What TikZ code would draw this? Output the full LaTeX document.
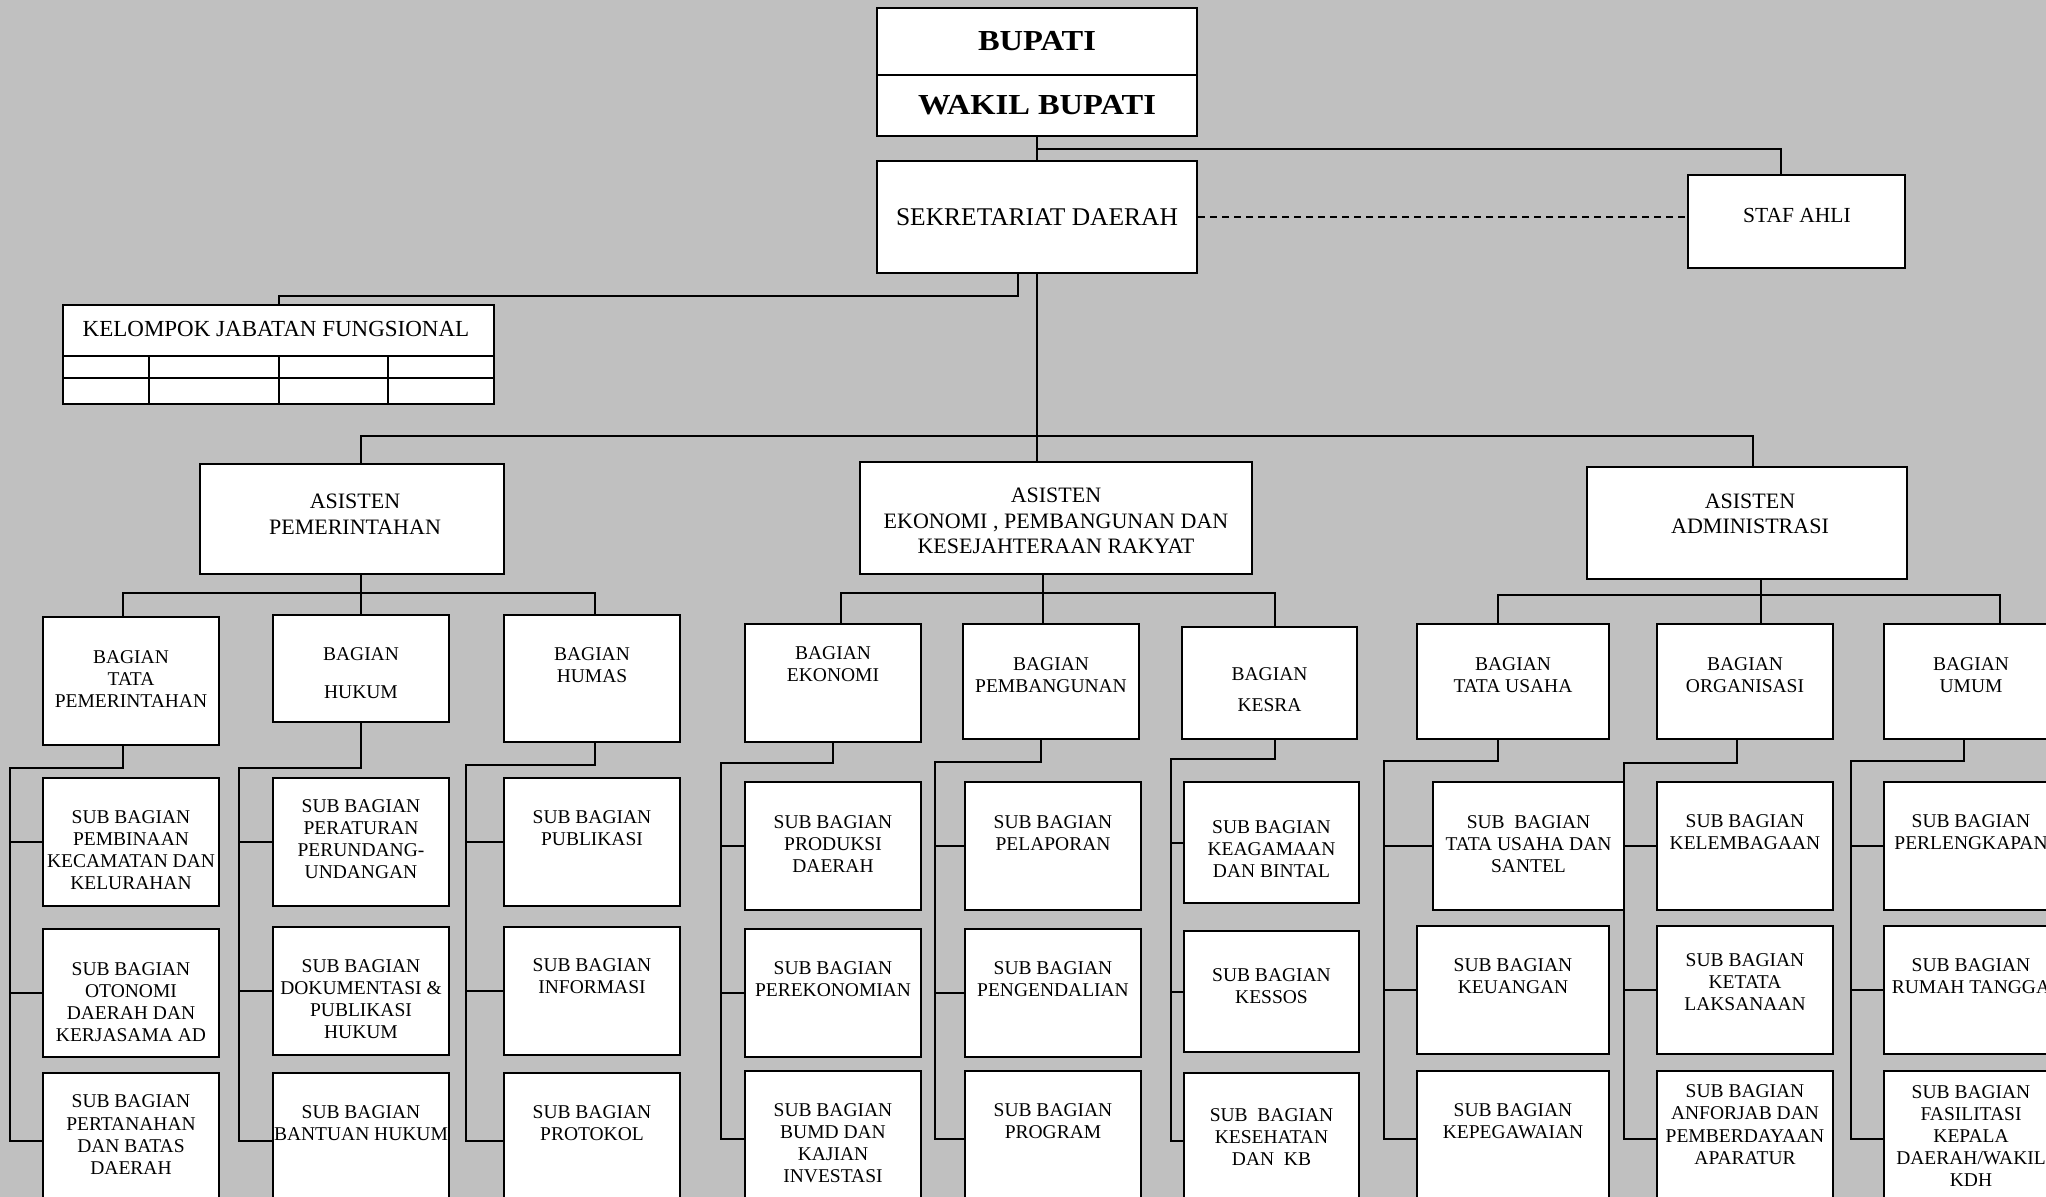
\documentclass[tikz,border=0pt]{standalone}
\usepackage{fontspec}
\setmainfont{Liberation Serif}
\newfontfamily\headfont[FakeStretch=1.12]{Liberation Serif}
\usepackage{tikz}
\definecolor{bggray}{HTML}{C0C0C0}
\tikzstyle{box} = [draw, line width=2pt, fill=white, inner sep=0pt, minimum width=176pt, minimum height=128pt]
\tikzstyle{conn} = [line width=2pt]
\tikzstyle{stext} = [align=center, inner sep=0pt, font=\fontsize{19.5pt}{22.2pt}\selectfont]
\tikzstyle{btext} = [align=center, inner sep=0pt, font=\fontsize{19.5pt}{21.8pt}\selectfont]
\tikzstyle{atext} = [align=center, inner sep=0pt, font=\fontsize{22pt}{25.5pt}\selectfont]
\begin{document}
\begin{tikzpicture}[x=1pt, y=-1pt]
    \clip (0,0) rectangle (2046,1197);
    \fill[bggray] (0,0) rectangle (2046,1197);

    % pimpinan
    \node[box, minimum width=320pt, minimum height=67pt, font=\headfont\fontsize{29pt}{34pt}\selectfont\bfseries] (bupati) at (1037,41.5) {BUPATI};
    \node[box, minimum width=320pt, minimum height=61pt, font=\headfont\fontsize{29pt}{34pt}\selectfont\bfseries] (wakil) at (1037,105.5) {WAKIL BUPATI};
    \node[box, minimum width=320pt, minimum height=112pt, font=\fontsize{25.5pt}{29pt}\selectfont] (sekda) at (1037,217) {SEKRETARIAT DAERAH};
    \node[box, minimum width=217pt, minimum height=93pt] (staf) at (1796.5,221.5) {};
    \node[inner sep=0pt, font=\fontsize{21.5pt}{25pt}\selectfont] (staft) at (1797,215.7) {STAF AHLI};

    % kelompok jabatan fungsional
    \node[box, minimum width=431pt, minimum height=99pt] (kjf) at (278.5,354.5) {};
    \node[inner sep=0pt, font=\fontsize{23pt}{26pt}\selectfont] (kjft) at (276,329) {KELOMPOK JABATAN FUNGSIONAL};
    \draw[conn] (63,356) -- (494,356);
    \draw[conn] (63,378) -- (494,378);
    \foreach \cx in {149,279,388}
        \draw[conn] (\cx,356) -- (\cx,404);

    % asisten
    \node[box, minimum width=304pt, minimum height=110pt] (asp) at (352,519) {};
    \node[atext] (aspt) at (355,514) {ASISTEN\\PEMERINTAHAN};
    \node[box, minimum width=392pt, minimum height=112pt] (ase) at (1056,518) {};
    \node[atext] (aset) at (1056,521) {ASISTEN\\EKONOMI , PEMBANGUNAN DAN\\KESEJAHTERAAN RAKYAT};
    \node[box, minimum width=320pt, minimum height=112pt] (asa) at (1747,523) {};
    \node[atext] (asat) at (1750,514) {ASISTEN\\ADMINISTRASI};

    % bagian
    \node[box] (btp) at (131,681) {};
    \node[btext] (btpt) at (131,679) {BAGIAN\\TATA\\PEMERINTAHAN};
    \node[box, minimum height=107pt] (bhk) at (361,668.5) {};
    \node[btext] (bhkt) at (361,673) {BAGIAN\\[15.6pt]HUKUM};
    \node[box, minimum height=127pt] (bhm) at (592,678.5) {};
    \node[btext] (bhmt) at (592,665) {BAGIAN\\HUMAS};
    \node[box, minimum height=118pt] (bek) at (833,683) {};
    \node[btext] (bekt) at (833,664.3) {BAGIAN\\EKONOMI};
    \node[box, minimum height=115pt] (bpb) at (1051,681.5) {};
    \node[btext] (bpbt) at (1051,675) {BAGIAN\\PEMBANGUNAN};
    \node[box, minimum width=175pt, minimum height=112pt] (bks) at (1269.5,683) {};
    \node[btext] (bkst) at (1269.5,689.7) {BAGIAN\\[8.9pt]KESRA};
    \node[box, minimum width=192pt, minimum height=115pt] (btu) at (1513,681.5) {};
    \node[btext] (btut) at (1513,675) {BAGIAN\\TATA USAHA};
    \node[box, minimum height=115pt] (bor) at (1745,681.5) {};
    \node[btext] (bort) at (1745,675) {BAGIAN\\ORGANISASI};
    \node[box, minimum height=115pt] (bum) at (1972,681.5) {};
    \node[btext] (bumt) at (1971,675) {BAGIAN\\UMUM};

    % sub bagian tata pemerintahan
    \node[box] (tp1) at (131,842) {};
    \node[stext] (tp1t) at (131,850) {SUB BAGIAN\\PEMBINAAN\\KECAMATAN DAN\\KELURAHAN};
    \node[box] (tp2) at (131,993) {};
    \node[stext] (tp2t) at (131,1002) {SUB BAGIAN\\OTONOMI\\DAERAH DAN\\KERJASAMA AD};
    \node[box, minimum height=136pt] (tp3) at (131,1141) {};
    \node[stext] (tp3t) at (131,1134.7) {SUB BAGIAN\\PERTANAHAN\\DAN BATAS\\DAERAH};

    % sub bagian hukum
    \node[box] (hk1) at (361,842) {};
    \node[stext] (hk1t) at (361,839) {SUB BAGIAN\\PERATURAN\\PERUNDANG-\\UNDANGAN};
    \node[box] (hk2) at (361,991) {};
    \node[stext] (hk2t) at (361,999) {SUB BAGIAN\\DOKUMENTASI \&\\PUBLIKASI\\HUKUM};
    \node[box, minimum height=136pt] (hk3) at (361,1141) {};
    \node[stext] (hk3t) at (361,1123.5) {SUB BAGIAN\\BANTUAN HUKUM};

    % sub bagian humas
    \node[box] (hm1) at (592,842) {};
    \node[stext] (hm1t) at (592,828) {SUB BAGIAN\\PUBLIKASI};
    \node[box] (hm2) at (592,991) {};
    \node[stext] (hm2t) at (592,976.5) {SUB BAGIAN\\INFORMASI};
    \node[box, minimum height=136pt] (hm3) at (592,1141) {};
    \node[stext] (hm3t) at (592,1123.5) {SUB BAGIAN\\PROTOKOL};

    % sub bagian ekonomi
    \node[box] (ek1) at (833,846) {};
    \node[stext] (ek1t) at (833,844) {SUB BAGIAN\\PRODUKSI\\DAERAH};
    \node[box] (ek2) at (833,993) {};
    \node[stext] (ek2t) at (833,979) {SUB BAGIAN\\PEREKONOMIAN};
    \node[box, minimum height=136pt] (ek3) at (833,1139) {};
    \node[stext] (ek3t) at (833,1143) {SUB BAGIAN\\BUMD DAN\\KAJIAN\\INVESTASI};

    % sub bagian pembangunan
    \node[box] (pb1) at (1053,846) {};
    \node[stext] (pb1t) at (1053,833.5) {SUB BAGIAN\\PELAPORAN};
    \node[box] (pb2) at (1053,993) {};
    \node[stext] (pb2t) at (1053,979.5) {SUB BAGIAN\\PENGENDALIAN};
    \node[box, minimum height=136pt] (pb3) at (1053,1139) {};
    \node[stext] (pb3t) at (1053,1121) {SUB BAGIAN\\PROGRAM};

    % sub bagian kesra
    \node[box, minimum width=175pt, minimum height=121pt] (ks1) at (1271.5,842.5) {};
    \node[stext] (ks1t) at (1271.5,849) {SUB BAGIAN\\KEAGAMAAN\\DAN BINTAL};
    \node[box, minimum width=175pt, minimum height=121pt] (ks2) at (1271.5,991.5) {};
    \node[stext] (ks2t) at (1271.5,986.5) {SUB BAGIAN\\KESSOS};
    \node[box, minimum width=175pt, minimum height=136pt] (ks3) at (1271.5,1141) {};
    \node[stext] (ks3t) at (1271.5,1137) {SUB\ \ BAGIAN\\KESEHATAN\\DAN\ \ KB};

    % sub bagian tata usaha
    \node[box, minimum width=191pt] (tu1) at (1528.5,846) {};
    \node[stext] (tu1t) at (1528.5,844) {SUB\ \ BAGIAN\\TATA USAHA DAN\\SANTEL};
    \node[box, minimum width=192pt] (tu2) at (1513,990) {};
    \node[stext] (tu2t) at (1513,976.5) {SUB BAGIAN\\KEUANGAN};
    \node[box, minimum width=192pt, minimum height=136pt] (tu3) at (1513,1139) {};
    \node[stext] (tu3t) at (1513,1121) {SUB BAGIAN\\KEPEGAWAIAN};

    % sub bagian organisasi
    \node[box] (or1) at (1745,846) {};
    \node[stext] (or1t) at (1745,832.5) {SUB BAGIAN\\KELEMBAGAAN};
    \node[box] (or2) at (1745,990) {};
    \node[stext] (or2t) at (1745,982) {SUB BAGIAN\\KETATA\\LAKSANAAN};
    \node[box, minimum height=136pt] (or3) at (1745,1139) {};
    \node[stext] (or3t) at (1745,1124.7) {SUB BAGIAN\\ANFORJAB DAN\\PEMBERDAYAAN\\APARATUR};

    % sub bagian umum
    \node[box] (um1) at (1972,846) {};
    \node[stext] (um1t) at (1971,832.5) {SUB BAGIAN\\PERLENGKAPAN};
    \node[box] (um2) at (1972,990) {};
    \node[stext] (um2t) at (1971,976.5) {SUB BAGIAN\\RUMAH TANGGA};
    \node[box, minimum height=136pt] (um3) at (1972,1139) {};
    \node[stext] (um3t) at (1971,1136) {SUB BAGIAN\\FASILITASI\\KEPALA\\DAERAH/WAKIL\\KDH};

    % garis komando atas
    \draw[conn] (wakil.south) -- (sekda.north);
    \draw[conn] ([yshift=-12pt]wakil.south) -| ([xshift=-16pt]staf.north);
    \draw[conn, dash pattern=on 7pt off 5pt] (sekda.east) -- (sekda.east -| staf.west);
    \draw[conn] ([xshift=-19pt]sekda.south) -- ++(0,22) -| (kjf.north);
    \draw[conn] (sekda.south) -- (sekda.south |- ase.north);
    \draw[conn] ([xshift=9pt]asp.north) |- ([yshift=-162pt]sekda.south) -| ([xshift=6pt]asa.north);

    % asisten ke bagian
    \draw[conn] ([xshift=9pt]asp.south) -- ++(0,18) coordinate (pemb);
    \draw[conn] ([xshift=-8pt]btp.north) |- (pemb) -| ([xshift=3pt]bhm.north);
    \draw[conn] (pemb) -- (pemb |- bhk.north);
    \draw[conn] ([xshift=-13pt]ase.south) -- ++(0,18) coordinate (ekob);
    \draw[conn] ([xshift=8pt]bek.north) |- (ekob) -| ([xshift=5pt]bks.north);
    \draw[conn] (ekob) -- (ekob |- bpb.north);
    \draw[conn] ([xshift=14pt]asa.south) -- ++(0,15) coordinate (admb);
    \draw[conn] ([xshift=-15pt]btu.north) |- (admb) -| ([xshift=28pt]bum.north);
    \draw[conn] (admb) -- (admb |- bor.north);

    % bagian ke sub bagian
    \foreach \bn/\sn/\xs/\dr/\gp in {btp/tp/-8/22/32, bhk/hk/0/45/33, bhm/hm/3/22/37,
        bek/ek/0/20/23, bpb/pb/-10/22/29, bks/ks/5/19/12,
        btu/tu/-15/21/32, bor/or/-8/23/32, bum/um/-8/21/32} {
        \coordinate (sp) at ([xshift=-\gp]\sn3.west);
        \draw[conn] ([xshift=\xs]\bn.south) -- ++(0,\dr) -| (sp |- \sn1.west) -- (\sn1.west);
        \draw[conn] (sp |- \sn1.west) |- (\sn3.west);
        \draw[conn] (sp |- \sn2.west) -- (\sn2.west);
    }
\end{tikzpicture}
\end{document}
